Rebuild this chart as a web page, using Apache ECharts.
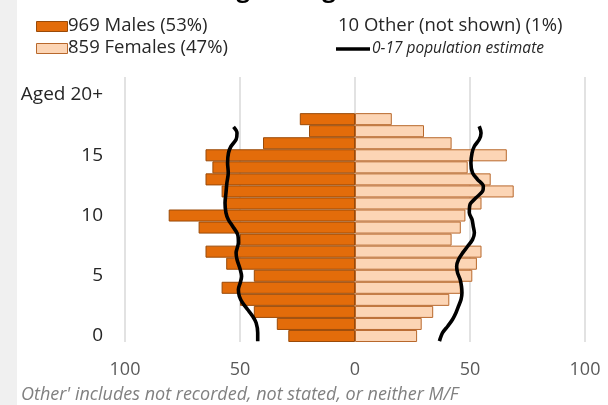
<!DOCTYPE html>
<html>
<head>
<meta charset="utf-8">
<script src="https://cdn.jsdelivr.net/npm/echarts@6/dist/echarts.min.js"></script>
<style>html,body{margin:0;padding:0;background:#fff}#c{width:608px;height:405px}</style>
</head>
<body>
<div id="c"></div>
<script>
// ---- data ----
const ages = ['0','1','2','3','4','5','6','7','8','9','10','11','12','13','14','15','16','17','18','19','20','21'];
const males   = [29, 34, 44, 50, 58, 44, 56, 65, 50, 68, 81, 57, 58, 65, 62, 65, 40, 20, 24];
const females = [27, 29, 34, 41, 46, 51, 53, 55, 42, 46, 48, 55, 69, 59, 49, 66, 42, 30, 16];
const tickPositions = [0, 5, 10, 15, 20];
const tickLabels = ['0', '5', '10', '15', 'Aged 20+'];
const xTicks = [-100, -50, 0, 50, 100];
// 0-17 population estimate curves (age position, value)
const maleEstPos = [17.36, 16.86, 16.31, 15.75, 15.2, 14.37, 13.54, 12.71, 11.88, 11.05, 10.22, 9.67, 9.11, 8.42, 7.73, 6.9, 6.35, 5.52, 4.96, 4.41, 3.86, 3.3, 2.76, 2.2, 1.64, 1.1, 0.27, -0.43];
const maleEst    = [52.8, 51.3, 51.7, 53.9, 55.0, 55.4, 55.1, 55.7, 56.1, 56.5, 56.1, 55.1, 53.2, 51.0, 50.7, 51.7, 51.3, 49.9, 49.3, 49.9, 50.7, 50.3, 48.9, 46.7, 44.5, 43.0, 42.3, 42.3];
const femaleEstPos = [17.41, 16.86, 16.31, 15.75, 15.2, 14.37, 13.54, 12.99, 12.43, 12.02, 11.47, 10.91, 10.22, 9.67, 9.11, 8.56, 8.0, 7.45, 6.9, 6.35, 5.79, 5.24, 4.69, 4.13, 3.58, 3.03, 2.47, 1.93, 1.37, 0.81, 0.27, -0.43];
const femaleEst    = [54.0, 54.8, 54.0, 51.9, 50.9, 50.4, 51.1, 53.3, 55.8, 55.5, 52.6, 50.0, 49.7, 50.9, 51.4, 51.9, 51.1, 49.0, 46.8, 45.0, 44.2, 44.6, 45.7, 46.3, 46.5, 46.1, 45.0, 43.9, 42.4, 40.3, 38.1, 36.7];
const maleName = '969 Males (53%)';
const femaleName = '859 Females (47%)';
const otherText = '10 Other (not shown) (1%)';
const estName = '0-17 population estimate';
const titleText = 'Age and gender';
const footnote = "Other' includes not recorded, not stated, or neither M/F";

// ---- chart ----
const FONT = '"Open Sans", "Noto Sans", sans-serif';
const MALE = '#E36C0A', MALE_B = '#9A4A08', FEM = '#FCD5B5', FEM_B = '#B8682C';
const chart = echarts.init(document.getElementById('c'), null, {renderer: 'canvas'});
chart.setOption({
  animation: false,
  backgroundColor: '#ffffff',
  textStyle: {fontFamily: FONT},
  title: {
    text: titleText, left: 220, top: -22, padding: 0,
    textStyle: {fontFamily: FONT, fontSize: 24, fontWeight: 'bold', color: '#000'}
  },
  graphic: [
    {type: 'rect', left: 0, top: 0, z: -10, shape: {width: 17, height: 405}, style: {fill: '#f0f0f0'}},
    // legend: males
    {type: 'rect', shape: {x: 36.5, y: 21.5, width: 31, height: 10}, style: {fill: MALE, stroke: MALE_B, lineWidth: 1}},
    {type: 'text', x: 68, y: 26, style: {text: maleName, font: '18.5px ' + FONT, fill: '#262626', verticalAlign: 'middle'}},
    // legend: females
    {type: 'rect', shape: {x: 36.5, y: 43.5, width: 31, height: 10}, style: {fill: FEM, stroke: FEM_B, lineWidth: 1}},
    {type: 'text', x: 68, y: 48, style: {text: femaleName, font: '18.5px ' + FONT, fill: '#262626', verticalAlign: 'middle'}},
    // other
    {type: 'text', x: 338, y: 26, style: {text: otherText, font: '18.5px ' + FONT, fill: '#262626', verticalAlign: 'middle'}},
    // estimate line legend
    {type: 'line', shape: {x1: 336, y1: 49, x2: 370, y2: 49}, style: {stroke: '#000', lineWidth: 3.5}},
    {type: 'text', x: 372, y: 49, style: {text: estName, font: 'italic 15.5px ' + FONT, fill: '#262626', verticalAlign: 'middle'}},
    // footnote
    {type: 'text', x: 21, y: 395, style: {text: footnote, font: 'italic 18px ' + FONT, fill: '#808080', verticalAlign: 'middle'}}
  ],
  grid: {left: 125, right: 23, top: 77, bottom: 63, containLabel: false},
  xAxis: {
    type: 'value', min: xTicks[0], max: xTicks[xTicks.length - 1], interval: 50,
    axisLine: {show: false}, axisTick: {show: false},
    splitLine: {show: true, lineStyle: {color: '#d9d9d9', width: 1.5}},
    axisLabel: {formatter: v => String(Math.abs(v)), fontFamily: FONT, fontSize: 18, color: '#595959', margin: 19}
  },
  yAxis: [
    {
      type: 'category', data: ages, boundaryGap: true,
      axisLine: {show: false}, axisTick: {show: false}, splitLine: {show: false},
      axisLabel: {
        interval: (i) => tickPositions.indexOf(i) >= 0,
        formatter: (v) => { const k = tickPositions.indexOf(Number(v)); return k >= 0 ? tickLabels[k] : ''; },
        fontFamily: FONT, fontSize: 19, color: '#262626', margin: 22
      }
    },
    {type: 'value', min: -0.5, max: 21.5, show: false}
  ],
  series: [
    {
      name: maleName, type: 'bar', yAxisIndex: 0, barCategoryGap: 0, barGap: '-100%',
      data: males.map(v => -v),
      itemStyle: {color: MALE, borderColor: MALE_B, borderWidth: 1}
    },
    {
      name: femaleName, type: 'bar', yAxisIndex: 0, barCategoryGap: 0, barGap: '-100%',
      data: females,
      itemStyle: {color: FEM, borderColor: FEM_B, borderWidth: 1}
    },
    {
      name: estName, type: 'line', yAxisIndex: 1, smooth: 0.3, symbol: 'none', z: 5,
      data: maleEst.map((v, i) => [-v, maleEstPos[i]]),
      lineStyle: {color: '#000', width: 3.6}
    },
    {
      name: estName, type: 'line', yAxisIndex: 1, smooth: 0.3, symbol: 'none', z: 5,
      data: femaleEst.map((v, i) => [v, femaleEstPos[i]]),
      lineStyle: {color: '#000', width: 3.6}
    }
  ]
});
</script>
</body>
</html>
